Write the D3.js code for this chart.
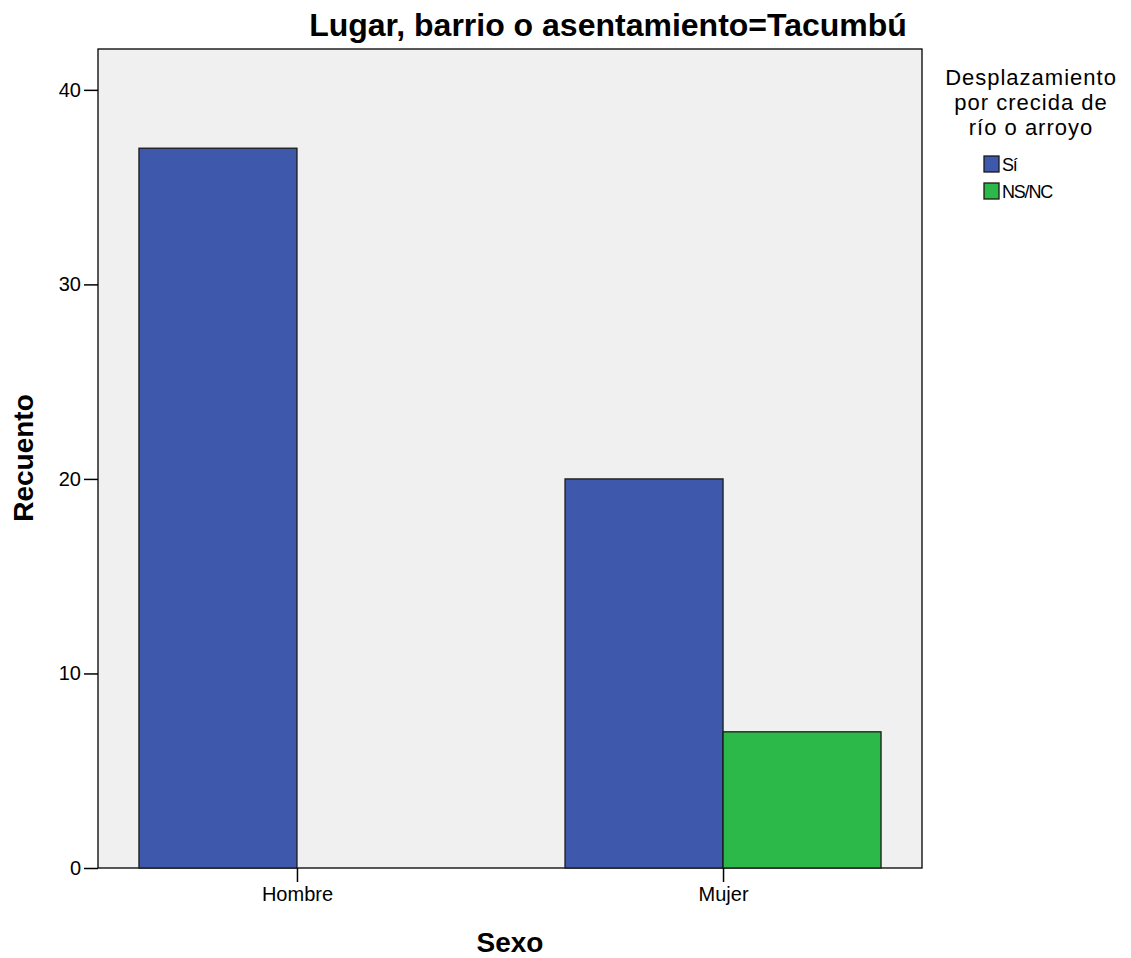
<!DOCTYPE html>
<html lang="es">
<head>
    <meta charset="UTF-8">
    <title>Tacumbú</title>
    <script src="https://cdnjs.cloudflare.com/ajax/libs/d3/7.8.5/d3.min.js"></script>
    <style>
        body { margin: 0; background: #fff; font-family: "Liberation Sans", Arial, sans-serif; }
        svg text { fill: #000; }
    </style>
</head>
<body>
<svg id="chart" width="1131" height="958"></svg>
<script>
    // data
    const categories = ['Hombre', 'Mujer'];
    const groups = ['Sí', 'NS/NC'];
    const siValues = [37, 20];
    const nsncValues = [0, 7];
    const yTicks = [0, 10, 20, 30, 40];
    const colors = ['#3E58AC', '#2DB84A'];

    const svg = d3.select('#chart');
    const m = { left: 98, right: 922, top: 49, bottom: 868 };
    const font = '"Liberation Sans", Arial, sans-serif';

    const rows = categories.map((c, i) => ({ cat: c, vals: [siValues[i], nsncValues[i]] }));

    const x = d3.scalePoint().domain(categories).range([m.left, m.right]).padding(0.467);
    const xSub = d3.scaleBand().domain(groups).range([-158, 158]);
    const y = d3.scaleLinear().domain([0, 42.1]).range([m.bottom, m.top]);

    // plot background
    svg.append('rect')
        .attr('x', m.left).attr('y', m.top)
        .attr('width', m.right - m.left).attr('height', m.bottom - m.top)
        .attr('fill', '#F0F0F0').attr('stroke', '#000').attr('stroke-width', 1.3);

    // bars
    const g = svg.append('g');
    rows.forEach(r => {
        groups.forEach((gr, j) => {
            if (r.vals[j] <= 0) return;
            g.append('rect')
                .attr('x', x(r.cat) + xSub(gr))
                .attr('y', y(r.vals[j]))
                .attr('width', xSub.bandwidth())
                .attr('height', y(0) - y(r.vals[j]))
                .attr('fill', colors[j])
                .attr('stroke', '#1a1a1a').attr('stroke-width', 1.3);
        });
    });

    // axes
    const yAxis = svg.append('g')
        .attr('transform', `translate(${m.left},0)`)
        .call(d3.axisLeft(y).tickValues(yTicks).tickSize(14).tickSizeOuter(0).tickPadding(3));
    yAxis.select('.domain').remove();
    yAxis.selectAll('text').style('font-size', '20px').style('font-family', font);
    yAxis.selectAll('line').attr('stroke', '#000').attr('stroke-width', 1.5);

    const xAxis = svg.append('g')
        .attr('transform', `translate(0,${m.bottom})`)
        .call(d3.axisBottom(x).tickSize(14).tickSizeOuter(0).tickPadding(5));
    xAxis.select('.domain').remove();
    xAxis.selectAll('text').style('font-size', '20px').style('font-family', font);
    xAxis.selectAll('line').attr('stroke', '#000').attr('stroke-width', 1.5);

    // title
    svg.append('text')
        .attr('x', 608).attr('y', 36)
        .attr('text-anchor', 'middle')
        .style('font-size', '32px').style('font-weight', 'bold')
        .text('Lugar, barrio o asentamiento=Tacumbú');

    // axis titles
    svg.append('text')
        .attr('transform', 'translate(33,458) rotate(-90)')
        .attr('text-anchor', 'middle')
        .style('font-size', '28px').style('font-weight', 'bold')
        .text('Recuento');
    svg.append('text')
        .attr('x', 510).attr('y', 952)
        .attr('text-anchor', 'middle')
        .style('font-size', '28px').style('font-weight', 'bold')
        .text('Sexo');

    // legend
    const legTitle = ['Desplazamiento', 'por crecida de', 'río o arroyo'];
    svg.append('g').selectAll('text')
        .data(legTitle).join('text')
        .attr('x', 1031).attr('y', (d, i) => 85 + i * 25)
        .attr('text-anchor', 'middle')
        .style('font-size', '22px').style('letter-spacing', '1px')
        .text(d => d);

    const leg = svg.append('g').attr('transform', 'translate(984,156)');
    groups.forEach((gr, j) => {
        leg.append('rect')
            .attr('x', 0).attr('y', j * 27)
            .attr('width', 15).attr('height', 16)
            .attr('fill', colors[j]).attr('stroke', '#1a1a1a').attr('stroke-width', 1.3);
        leg.append('text')
            .attr('x', 18).attr('y', j * 27 + 15)
            .style('font-size', '18px').style('letter-spacing', '-1.2px')
            .text(gr);
    });
</script>
</body>
</html>
